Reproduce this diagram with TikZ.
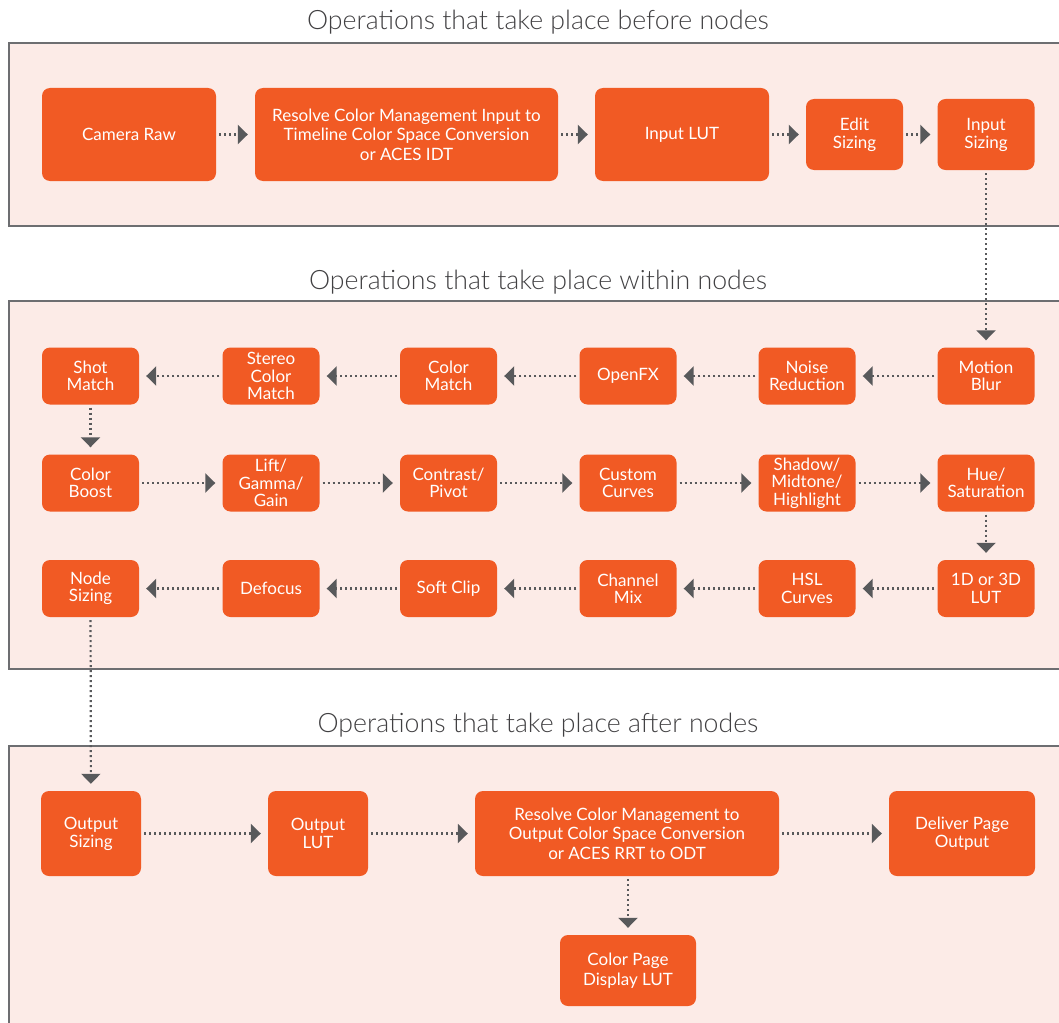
\documentclass[tikz,border=0pt]{standalone}
\usepackage{fontspec}
\setmainfont{Lato}
\newfontfamily\titlefont{Lato Light}
\usetikzlibrary{arrows.meta}
\definecolor{boxorange}{HTML}{F15A24}
\definecolor{panelfill}{HTML}{FCEBE7}
\definecolor{panelline}{HTML}{6D6E71}
\definecolor{arrowgray}{HTML}{58595B}
\definecolor{titlegray}{HTML}{414042}
\tikzset{
  opbox/.style={rectangle, rounded corners=8pt, fill=boxorange, text=white, inner sep=0pt,
    align=center, font=\fontsize{17}{19.5}\selectfont},
  panel/.style={fill=panelfill, draw=panelline, line width=1.3pt},
  ttl/.style={text=titlegray, font=\titlefont\fontsize{26.7}{30}\selectfont},
  flow/.style={draw=arrowgray, line width=2.2pt, dash pattern=on 2pt off 3pt,
    -{Triangle[width=19pt,length=10pt]}, shorten <=3pt, shorten >=7pt}
}
\begin{document}
\begin{tikzpicture}[x=1pt,y=-1pt]
\useasboundingbox (0,0) rectangle (1059,1022);
\begin{scope}
\clip (0,0) rectangle (1059,1022);
% panels
\draw[panel] (9,43) rectangle (1075,226);
\draw[panel] (9,301) rectangle (1075,669);
\draw[panel] (9,746) rectangle (1075,1040);
\end{scope}
% titles
\node[ttl] (t1) at (538,22) {Operations that take place before nodes};
\node[ttl] (t2) at (538,282) {Operations that take place within nodes};
\node[ttl] (t3) at (538,725) {Operations that take place after nodes};
% panel 1
\node[opbox, minimum width=174pt, minimum height=93pt] (cam) at (129,134.5) {Camera Raw};
\node[opbox, minimum width=303pt, minimum height=93pt] (rcmi) at (406.5,134.5) {Resolve Color Management Input to\\Timeline Color Space Conversion\\or ACES IDT};
\node[opbox, minimum width=174pt, minimum height=93pt] (ilut) at (682,134.5) {Input LUT};
\node[opbox, minimum width=97pt, minimum height=71pt, font=\fontsize{17}{18}\selectfont] (esz) at (854.5,134.5) {Edit\\Sizing};
\node[opbox, minimum width=97pt, minimum height=71pt, font=\fontsize{17}{18}\selectfont] (isz) at (986,134.5) {Input\\Sizing};
% panel 2
\tikzset{sm/.style={opbox, minimum width=97pt, minimum height=57pt, font=\fontsize{17}{17.5}\selectfont}}
\node[sm] (shot) at (90.5,376) {Shot\\Match};
\node[sm] (stereo) at (271,376) {Stereo\\Color\\Match};
\node[sm] (cmatch) at (448.5,376) {Color\\Match};
\node[sm] (ofx) at (628,376) {OpenFX};
\node[sm] (noise) at (807,376) {Noise\\Reduction};
\node[sm] (mblur) at (986,376) {Motion\\Blur};
\node[sm] (boost) at (90.5,483) {Color\\Boost};
\node[sm] (lgg) at (271,483) {Lift/\\Gamma/\\Gain};
\node[sm] (cp) at (448.5,483) {Contrast/\\Pivot};
\node[sm] (cc) at (628,483) {Custom\\Curves};
\node[sm] (smh) at (807,483) {Shadow/\\Midtone/\\Highlight};
\node[sm] (hue) at (986,483) {Hue/\\Saturation};
\node[sm] (nsz) at (90.5,588.5) {Node\\Sizing};
\node[sm] (defo) at (271,588.5) {Defocus};
\node[sm] (sclip) at (448.5,588.5) {Soft Clip};
\node[sm] (cmix) at (628,588.5) {Channel\\Mix};
\node[sm] (hsl) at (807,588.5) {HSL\\Curves};
\node[sm] (lut13) at (986,588.5) {1D or 3D\\LUT};
% panel 3
\node[opbox, minimum width=100pt, minimum height=85pt, font=\fontsize{17}{18}\selectfont] (osz) at (91,833.5) {Output\\Sizing};
\node[opbox, minimum width=100pt, minimum height=85pt, font=\fontsize{17}{18}\selectfont] (olut) at (318,833.5) {Output\\LUT};
\node[opbox, minimum width=304pt, minimum height=85pt] (rcmo) at (627,833.5) {Resolve Color Management to\\Output Color Space Conversion\\or ACES RRT to ODT};
\node[opbox, minimum width=146pt, minimum height=85pt, font=\fontsize{17}{18}\selectfont] (dlv) at (962,833.5) {Deliver Page\\Output};
\node[opbox, minimum width=136pt, minimum height=71pt] (cpd) at (628,970.5) {Color Page\\Display LUT};
% connectors
\draw[flow] (cam) -- (rcmi);
\draw[flow] (rcmi) -- (ilut);
\draw[flow] (ilut) -- (esz);
\draw[flow] (esz) -- (isz);
\draw[flow] (isz) -- (mblur);
\draw[flow] (mblur) -- (noise);
\draw[flow] (noise) -- (ofx);
\draw[flow] (ofx) -- (cmatch);
\draw[flow] (cmatch) -- (stereo);
\draw[flow] (stereo) -- (shot);
\draw[flow] (shot) -- (boost);
\draw[flow] (boost) -- (lgg);
\draw[flow] (lgg) -- (cp);
\draw[flow] (cp) -- (cc);
\draw[flow] (cc) -- (smh);
\draw[flow] (smh) -- (hue);
\draw[flow] (hue) -- (lut13);
\draw[flow] (lut13) -- (hsl);
\draw[flow] (hsl) -- (cmix);
\draw[flow] (cmix) -- (sclip);
\draw[flow] (sclip) -- (defo);
\draw[flow] (defo) -- (nsz);
\draw[flow] (nsz) -- (osz);
\draw[flow] (osz) -- (olut);
\draw[flow] (olut) -- (rcmo);
\draw[flow] (rcmo) -- (dlv);
\draw[flow] (rcmo.south -| cpd.north) -- (cpd);
\end{tikzpicture}
\end{document}
